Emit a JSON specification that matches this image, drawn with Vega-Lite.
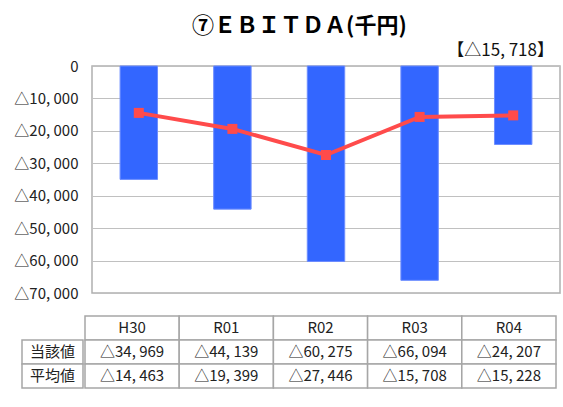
{
  "$schema": "https://vega.github.io/schema/vega-lite/v6.json",
  "padding": {"left": 10, "top": 14, "right": 0, "bottom": 0},
  "background": "white",
  "title": {"text": "⑦ＥＢＩＴＤＡ(千円)", "fontSize": 22, "fontWeight": "bold", "color": "#000000", "anchor": "middle", "offset": 3, "dx": 14},
  "config": {"font": "Noto Sans CJK JP", "view": {"stroke": null}, "axis": {"labelOverlap": false}},
  "data": {"values": [
    {"年度": "H30", "当該値": -34969, "平均値": -14463},
    {"年度": "R01", "当該値": -44139, "平均値": -19399},
    {"年度": "R02", "当該値": -60275, "平均値": -27446},
    {"年度": "R03", "当該値": -66094, "平均値": -15708},
    {"年度": "R04", "当該値": -24207, "平均値": -15228}
  ]},
  "spacing": 14,
  "vconcat": [
    {
      "spacing": 0,
      "hconcat": [
        {
          "width": 69,
          "height": 227,
          "transform": [{"fold": ["当該値", "平均値"], "as": ["項目", "値"]}],
          "mark": {"type": "point", "opacity": 0},
          "encoding": {
            "y": {"field": "値", "type": "quantitative", "title": null,
              "scale": {"domain": [-70000, 0], "nice": false, "zero": true},
              "axis": {"orient": "left", "offset": -69,
                "values": [0, -10000, -20000, -30000, -40000, -50000, -60000, -70000],
                "labelExpr": "datum.value == 0 ? '0' : '△' + replace(format(-datum.value, ','), ',', ', ')",
                "labelFontSize": 15, "labelColor": "#222222", "labelPadding": 13, "labelOverlap": false,
                "ticks": false, "domain": false, "grid": false}}
          }
        },
        {
          "width": 468,
          "height": 227,
          "title": {"text": "【△15, 718】", "anchor": "end", "fontSize": 17, "fontWeight": "normal", "color": "#111111", "dx": -6, "offset": 6},
          "view": {"stroke": "#b0b0b0", "strokeWidth": 1.5},
          "transform": [{"fold": ["当該値", "平均値"], "as": ["項目", "値"]}],
          "encoding": {
            "x": {"field": "年度", "type": "nominal", "sort": null, "axis": null, "scale": {"paddingInner": 0.6, "paddingOuter": 0.3}},
            "y": {"field": "値", "type": "quantitative", "title": null,
              "scale": {"domain": [-70000, 0], "nice": false, "zero": true},
              "axis": {"values": [0, -10000, -20000, -30000, -40000, -50000, -60000, -70000],
                "labels": false, "ticks": false, "domain": false, "gridColor": "#c0c0c0", "gridWidth": 1}}
          },
          "layer": [
            {
              "transform": [{"filter": "datum['項目'] == '当該値'"}],
              "mark": {"type": "bar", "color": "#3366ff", "stroke": "#6d8dff", "strokeWidth": 1}
            },
            {
              "transform": [{"filter": "datum['項目'] == '平均値'"}],
              "mark": {"type": "line", "color": "#ff4b4b", "strokeWidth": 4,
                "point": {"shape": "square", "size": 100, "filled": true, "color": "#ff4b4b", "opacity": 1}}
            }
          ]
        }
      ]
    },
    {
      "spacing": 0,
      "hconcat": [
        {
          "width": 61,
          "height": 72,
          "transform": [
            {"fold": ["当該値", "平均値"], "as": ["項目", "値"]},
            {"aggregate": [{"op": "count", "as": "n"}], "groupby": ["項目"]}
          ],
          "encoding": {
            "y": {"field": "項目", "type": "nominal", "title": null,
              "axis": {"labels": false, "ticks": false, "domain": false, "grid": false, "minExtent": 12, "maxExtent": 12},
              "scale": {"domain": ["年度", "当該値", "平均値"], "paddingInner": 0, "paddingOuter": 0}}
          },
          "layer": [
            {"mark": {"type": "rect", "fill": "white", "stroke": "#a6a6a6", "strokeWidth": 1.5}},
            {"mark": {"type": "text", "fontSize": 15, "color": "#222222"}, "encoding": {"text": {"field": "項目"}}}
          ]
        },
        {
          "width": 471,
          "height": 72,
          "encoding": {
            "x": {"field": "年度", "type": "nominal", "sort": null, "axis": null,
              "scale": {"paddingInner": 0, "paddingOuter": 0}}
          },
          "layer": [
            {
              "mark": {"type": "rect", "fill": "white", "stroke": "#a6a6a6", "strokeWidth": 1.5},
              "encoding": {"y": {"datum": "年度", "type": "nominal", "axis": null,
                "scale": {"domain": ["年度", "当該値", "平均値"], "paddingInner": 0, "paddingOuter": 0}}}
            },
            {
              "mark": {"type": "text", "fontSize": 15, "color": "#222222"},
              "encoding": {"y": {"datum": "年度", "type": "nominal"}, "text": {"field": "年度"}}
            },
            {
              "transform": [
                {"fold": ["当該値", "平均値"], "as": ["項目", "値"]},
                {"calculate": "'△' + replace(format(-datum['値'], ','), ',', ', ')", "as": "表示"}
              ],
              "layer": [
                {"mark": {"type": "rect", "fill": "white", "stroke": "#a6a6a6", "strokeWidth": 1.5},
                  "encoding": {"y": {"field": "項目", "type": "nominal"}}},
                {"mark": {"type": "text", "fontSize": 15, "color": "#222222"},
                  "encoding": {"y": {"field": "項目", "type": "nominal"}, "text": {"field": "表示"}}}
              ]
            }
          ]
        }
      ]
    }
  ]
}
